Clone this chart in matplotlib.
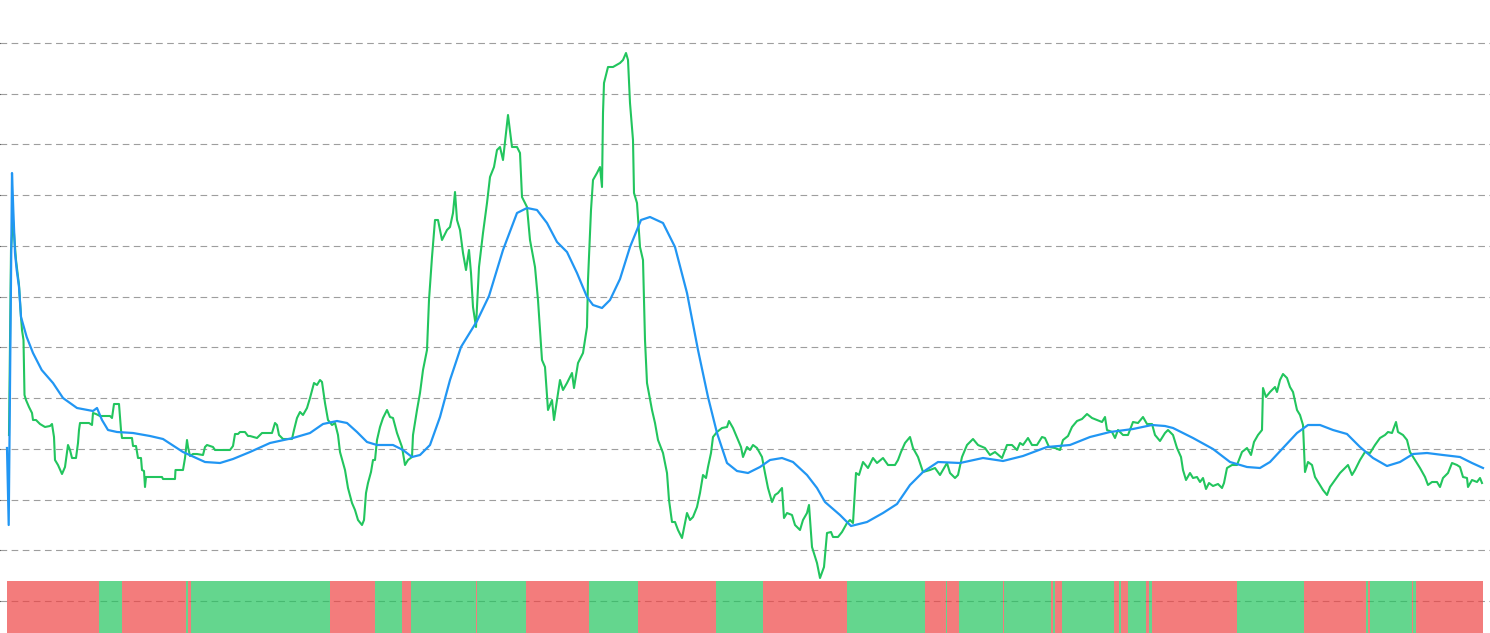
#!/usr/bin/env python3
"""
Price line with moving average and a trend band underneath.
"""

import numpy as np
import matplotlib
matplotlib.use("Agg")
import matplotlib.pyplot as plt

# --- price (green line): day index, price level ---
price_t = [9, 11, 13, 16, 19, 21, 22, 23.5, 24.5, 26, 29, 32, 33, 36, 40, 45, 50, 52, 54, 55,
           58, 62, 65, 68, 70, 72, 76, 78, 79, 80, 89, 92, 93, 96, 100, 110, 112, 114, 119, 121,
           122, 132, 133, 136, 138, 141, 142, 144, 145, 146, 162, 163, 175, 175.5, 183, 185, 187, 188, 190, 193,
           197, 203, 205, 207, 213, 215, 230, 233, 235, 238, 240, 245, 248, 250, 257, 262, 272, 275, 277, 279,
           283, 292, 294, 297, 300, 303, 307, 310, 314, 317, 320, 322, 325, 328, 332, 335, 338, 340, 345, 348,
           352, 355, 358, 362, 364, 366, 368, 371, 373, 375, 377, 380, 383, 387, 390, 393, 397, 402, 405, 408,
           412, 413, 417, 420, 423, 427, 429, 432, 435, 438, 442, 447, 450, 453, 455, 457, 460, 463, 466, 469,
           471, 473, 476, 479, 483, 487, 490, 494, 497, 500, 503, 506, 508, 512, 517, 520, 522, 527, 530, 535,
           538, 542, 545, 548, 552, 554, 557, 560, 563, 567, 572, 574, 578, 583, 587, 588, 591, 593, 597, 600,
           602, 603, 604, 608, 613, 620, 623, 626, 628, 630, 633, 634, 637, 640, 643, 645, 647, 652, 655, 658,
           663, 667, 669, 672, 675, 678, 682, 685, 687, 690, 693, 697, 700, 703, 706, 708, 711, 713, 717, 722,
           727, 729, 733, 738, 741, 743, 747, 750, 753, 757, 762, 765, 768, 772, 775, 778, 782, 784, 787, 792,
           795, 800, 803, 807, 809, 812, 817, 820, 824, 827, 831, 833, 838, 842, 847, 850, 853, 856, 859, 863,
           868, 873, 877, 883, 888, 895, 898, 901, 905, 910, 913, 918, 923, 930, 935, 940, 947, 950, 955, 958,
           962, 967, 973, 978, 985, 990, 995, 1002, 1007, 1012, 1017, 1020, 1023, 1028, 1032, 1037, 1042, 1045, 1049, 1055,
           1060, 1063, 1068, 1072, 1077, 1082, 1087, 1092, 1097, 1102, 1105, 1107, 1112, 1115, 1118, 1123, 1128, 1133, 1138, 1143,
           1147, 1152, 1155, 1160, 1165, 1168, 1173, 1177, 1181, 1183, 1186, 1190, 1193, 1197, 1200, 1203, 1206, 1209, 1213, 1218,
           1222, 1224, 1227, 1232, 1237, 1242, 1247, 1251, 1254, 1258, 1262, 1263, 1266, 1270, 1275, 1277, 1280, 1283, 1287, 1290,
           1293, 1297, 1300, 1303, 1305, 1308, 1312, 1315, 1320, 1323, 1327, 1330, 1335, 1340, 1343, 1348, 1352, 1355, 1360, 1365,
           1370, 1375, 1380, 1385, 1388, 1392, 1396, 1398, 1403, 1407, 1410, 1415, 1420, 1425, 1428, 1432, 1437, 1440, 1443, 1448,
           1452, 1457, 1460, 1463, 1467, 1468, 1472, 1477, 1480, 1482]
price = [166, 351, 381, 341, 316, 284, 271, 261, 206, 201, 194, 188, 181, 181, 177, 174, 175, 177, 164, 141,
         136, 127, 134, 156, 151, 143, 143, 158, 171, 178, 178, 176, 188, 187, 185, 185, 183, 197, 197, 171,
         163, 163, 155, 155, 143, 143, 131, 130, 114, 124, 124, 122, 122, 131, 131, 143, 161, 154, 145, 147,
         147, 146, 154, 156, 154, 151, 151, 155, 167, 167, 169, 169, 165, 165, 163, 168, 168, 178, 176, 166,
         162, 162, 171, 183, 189, 186, 193, 203, 218, 216, 221, 219, 198, 181, 176, 178, 166, 149, 131, 113,
         98, 91, 81, 76, 81, 108, 118, 129, 141, 141, 161, 174, 183, 191, 184, 183, 168, 154, 136, 141,
         144, 166, 191, 208, 231, 251, 301, 344, 381, 381, 361, 371, 374, 388, 409, 381, 371, 348, 331, 351,
         328, 294, 274, 334, 368, 398, 424, 434, 451, 454, 441, 468, 486, 454, 454, 448, 404, 394, 361, 334,
         301, 241, 234, 191, 201, 181, 201, 221, 211, 218, 228, 213, 238, 248, 274, 321, 391, 421, 428, 434,
         414, 488, 518, 534, 534, 538, 541, 548, 541, 498, 461, 408, 398, 354, 341, 261, 218, 191, 178, 161,
         148, 128, 101, 79, 79, 71, 63, 78, 88, 81, 84, 94, 108, 126, 123, 134, 148, 164, 169, 173,
         174, 180, 173, 161, 154, 144, 154, 151, 156, 153, 144, 128, 113, 99, 106, 108, 113, 83, 88, 86,
         76, 71, 81, 88, 96, 54, 38, 23, 34, 68, 69, 64, 64, 69, 78, 81, 78, 128, 126, 139,
         133, 143, 138, 143, 136, 136, 141, 149, 158, 164, 153, 144, 129, 131, 133, 126, 138, 128, 123, 126,
         144, 156, 162, 156, 153, 146, 149, 143, 156, 156, 151, 158, 156, 163, 156, 156, 164, 163, 154, 153,
         151, 161, 165, 174, 180, 182, 187, 183, 181, 179, 184, 171, 169, 163, 171, 166, 166, 179, 178, 184,
         177, 177, 166, 160, 168, 171, 166, 153, 144, 131, 121, 128, 123, 124, 119, 123, 112, 118, 115, 117,
         113, 118, 133, 136, 136, 149, 153, 146, 159, 166, 171, 213, 204, 209, 214, 209, 221, 227, 223, 214,
         209, 191, 186, 176, 129, 139, 136, 124, 116, 111, 106, 114, 121, 128, 131, 136, 126, 131, 141, 149,
         148, 156, 163, 166, 169, 168, 179, 169, 166, 161, 149, 141, 133, 124, 116, 119, 119, 114, 123, 128,
         138, 136, 134, 124, 123, 114, 121, 119, 123, 118]

# --- moving average (blue line) ---
ma_t = [7, 8.7, 12, 13.3, 15, 16.7, 19, 21, 26.7, 33, 41.7, 53, 63, 77, 93, 97, 102, 108, 117, 133,
        150, 163, 183, 205, 220, 233, 250, 270, 293, 310, 323, 337, 347, 357, 367, 377, 393, 403, 412, 420,
        430, 440, 450, 461, 477, 489, 503, 517, 527, 537, 547, 557, 567, 577, 587, 593, 602, 610, 620, 630,
        641, 650, 663, 675, 687, 698, 708, 717, 727, 737, 748, 760, 770, 782, 793, 807, 817, 825, 840, 851,
        867, 883, 897, 910, 923, 938, 960, 983, 1003, 1023, 1047, 1070, 1090, 1110, 1133, 1152, 1165, 1173, 1193, 1213,
        1230, 1247, 1260, 1270, 1283, 1297, 1308, 1320, 1333, 1347, 1360, 1373, 1387, 1400, 1413, 1427, 1443, 1460, 1472, 1483]
ma = [153, 76, 428, 391, 348, 331, 314, 284, 264, 248, 231, 218, 203, 193, 190, 193, 181, 171, 169, 168,
      165, 162, 149, 139, 138, 142, 149, 158, 163, 168, 177, 180, 178, 169, 159, 156, 156, 151, 144, 146,
      156, 184, 221, 254, 280, 305, 351, 388, 393, 391, 378, 359, 349, 328, 304, 296, 293, 301, 322, 354,
      381, 384, 378, 354, 308, 251, 204, 168, 138, 130, 128, 134, 141, 143, 139, 126, 113, 99, 86, 75,
      79, 88, 97, 116, 129, 139, 138, 143, 140, 145, 154, 156, 164, 169, 172, 176, 175, 173, 163, 152,
      139, 134, 133, 139, 153, 168, 176, 176, 171, 167, 154, 143, 135, 139, 147, 148, 146, 144, 138, 133]

# --- trend band: segment boundaries (days) and trend of each segment ---
band_edges = [7, 99, 122, 186, 188, 191, 330, 375, 402, 411, 476, 477, 526, 589, 638, 716, 763, 847,
              925, 946, 947, 959, 1003, 1004, 1051, 1053, 1055, 1062, 1114, 1119, 1121, 1128, 1146,
              1149, 1152, 1237, 1304, 1366, 1368, 1370, 1412, 1413, 1416, 1483]
band_trend = ['down', 'up'] * 21 + ['down']

LINE_GREEN = '#22c55e'
LINE_BLUE = '#2196f3'
BAND_COLORS = {'up': '#22c55e', 'down': '#ef4444'}

fig = plt.figure(figsize=(14.9, 6.33), dpi=100)
ax = fig.add_axes([0, 0, 1, 1])

ax.set_xlim(0, 1490)
ax.set_ylim(-32, 601)

# horizontal dashed grid
ax.set_yticks(np.linspace(0, 558, 12))
ax.grid(axis='y', color='#9e9e9e', linewidth=0.8, linestyle=(0, (6, 4)))
ax.set_axisbelow(True)

ax.plot(price_t, price, color=LINE_GREEN, linewidth=1.5, zorder=3)
ax.plot(ma_t, ma, color=LINE_BLUE, linewidth=1.6, zorder=4)

for side in ax.spines.values():
    side.set_visible(False)
ax.tick_params(left=False, bottom=False, labelleft=False, labelbottom=False)

# trend band on its own scale at the bottom
ax2 = ax.twinx()
ax2.set_ylim(0, 633 / 52)
starts = np.array(band_edges[:-1])
widths = np.diff(band_edges)
colors = [BAND_COLORS[t] for t in band_trend]
ax2.bar(starts, np.ones(len(starts)), width=widths, align='edge',
        color=colors, alpha=0.7, linewidth=0)
ax2.set_xlim(0, 1490)
for side in ax2.spines.values():
    side.set_visible(False)
ax2.tick_params(right=False, labelright=False)

fig.savefig('out.png', dpi=100)
plt.close(fig)
